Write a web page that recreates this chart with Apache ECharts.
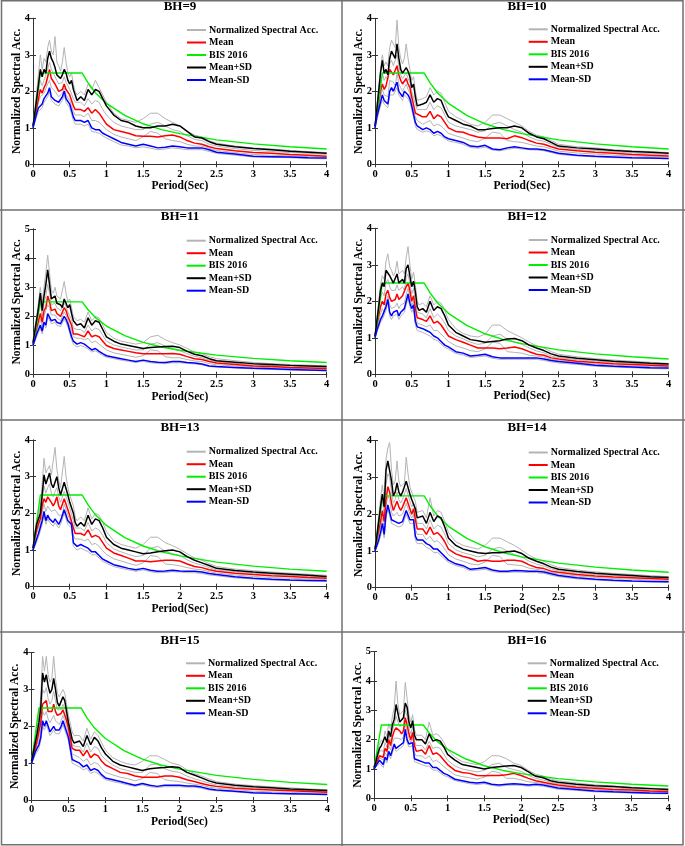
<!DOCTYPE html>
<html><head><meta charset="utf-8">
<script src="https://cdn.jsdelivr.net/npm/echarts@6/dist/echarts.min.js"></script>
<style>html,body{margin:0;padding:0;background:#fff}#c{width:685px;height:846px}</style>
</head><body><div id="c"></div>
<script>
// ---------- DATA ----------
const PERIOD = [0,0.025,0.05,0.075,0.1,0.125,0.15,0.175,0.2,0.225,0.25,0.275,0.3,0.325,0.35,0.375,0.4,0.425,0.45,0.475,0.5,0.525,0.55,0.575,0.6,
  0.65,0.7,0.75,0.8,0.85,0.9,0.95,1.0,
  1.1,1.2,1.3,1.4,1.5,1.6,1.7,1.8,1.9,2.0,2.1,2.2,2.3,2.4,2.5,
  2.75,3.0,3.25,3.5,3.75,4.0];
const BIS_T  = [0,0.1,0.67,0.75,0.85,1,1.25,1.5,1.75,2,2.5,3,3.5,4];
const BIS_SA = [1,2.5,2.5,2.23,1.96,1.67,1.34,1.11,0.95,0.84,0.67,0.56,0.48,0.42];
const TITLES = ['BH=9','BH=10','BH=11','BH=12','BH=13','BH=14','BH=15','BH=16'];
const Y_MAX = [4,4,5,4,4,4,4,5];
const NAMES = ['Normalized Spectral Acc.','Mean','BIS 2016','Mean+SD','Mean-SD'];

const BH9_PLUS  = [1.05,1.4,1.8,2.2,2.6,2.4,2.6,2.5,2.9,3.1,2.9,2.8,2.65,2.45,2.5,2.35,2.45,2.6,2.5,2.3,2.2,2.3,2.05,1.9,1.75, 1.85,1.75,2.05,1.9,2.05,2.0,1.8,1.6, 1.35,1.2,1.15,1.05,1.0,1.0,1.05,1.05,1.1,1.05,0.9,0.75,0.72,0.62,0.55, 0.48,0.43,0.4,0.36,0.33,0.3];
const BH9_MEAN  = [1.05,1.3,1.55,1.8,2.05,1.95,2.1,2.2,2.4,2.6,2.35,2.3,2.2,2.1,2.0,1.95,2.05,2.2,2.05,2.0,1.9,1.95,1.6,1.5,1.55, 1.5,1.45,1.55,1.4,1.5,1.4,1.25,1.1, 0.95,0.9,0.85,0.78,0.77,0.77,0.75,0.78,0.8,0.75,0.65,0.58,0.55,0.48,0.43, 0.37,0.32,0.3,0.27,0.25,0.22];
const BH9_MINUS = [1.0,1.2,1.4,1.55,1.6,1.65,1.8,1.75,1.95,2.1,1.85,1.8,1.75,1.8,1.7,1.75,1.85,2.0,1.8,1.75,1.65,1.7,1.3,1.2,1.15, 1.2,1.15,1.2,1.0,0.95,0.95,0.85,0.8, 0.7,0.6,0.55,0.5,0.55,0.5,0.45,0.47,0.5,0.48,0.45,0.45,0.45,0.4,0.33, 0.28,0.22,0.21,0.2,0.18,0.17];
const BH9_G1 = [1.05,1.5,2.0,2.5,3.0,2.6,2.9,2.8,3.2,3.4,3.1,3.0,3.5,2.8,2.7,2.55,2.8,3.2,2.8,2.5,2.4,2.5,2.2,2.0,1.9, 2.0,1.9,2.2,2.05,2.3,2.1,1.9,1.7, 1.4,1.25,1.2,1.15,1.25,1.4,1.4,1.25,1.15,1.05,0.9,0.8,0.75,0.65,0.58, 0.5,0.45,0.42,0.38,0.35,0.32];
const BH9_G2 = [1.05,1.35,1.65,2.0,2.3,2.15,2.3,2.3,2.6,2.8,2.6,2.5,2.45,2.3,2.2,2.15,2.25,2.4,2.25,2.15,2.05,2.1,1.8,1.7,1.65, 1.7,1.6,1.8,1.65,1.75,1.7,1.5,1.35, 1.15,1.05,1.0,0.95,0.95,1.1,1.15,1.05,0.95,0.9,0.78,0.68,0.65,0.55,0.5, 0.43,0.38,0.35,0.32,0.3,0.27];
const BH9_G3 = [1.0,1.25,1.5,1.7,1.85,1.8,1.95,1.95,2.2,2.3,2.1,2.05,2.0,1.95,1.85,1.85,1.95,2.1,1.9,1.85,1.75,1.8,1.45,1.35,1.35, 1.35,1.3,1.4,1.2,1.2,1.15,1.05,0.95, 0.82,0.75,0.7,0.65,0.75,0.9,0.85,0.7,0.65,0.62,0.55,0.5,0.5,0.44,0.38, 0.32,0.27,0.25,0.23,0.21,0.2];
const BH9_G4 = [1.0,1.15,1.3,1.45,1.5,1.55,1.7,1.65,1.85,2.0,1.75,1.7,1.65,1.7,1.6,1.65,1.75,1.9,1.7,1.65,1.55,1.6,1.2,1.1,1.05, 1.1,1.05,1.1,0.9,0.88,0.85,0.78,0.72, 0.62,0.53,0.5,0.45,0.48,0.44,0.4,0.42,0.45,0.43,0.4,0.4,0.4,0.35,0.3, 0.25,0.2,0.19,0.18,0.16,0.15];

const BH10_PLUS  = [1.05,1.5,2.0,2.5,2.85,2.5,2.6,2.45,2.9,3.1,3.0,2.9,3.3,2.9,2.6,2.5,2.55,2.65,2.55,2.4,2.1,2.2,1.85,1.6,1.55, 1.65,1.7,1.9,1.7,1.8,1.75,1.5,1.3, 1.2,1.1,1.05,0.95,0.95,0.98,1.0,1.0,1.05,1.0,0.85,0.75,0.7,0.6,0.5, 0.45,0.42,0.38,0.35,0.33,0.3];
const BH10_MEAN  = [1.05,1.4,1.7,2.0,2.2,2.05,2.15,2.1,2.6,2.55,2.45,2.4,2.7,2.45,2.3,2.2,2.25,2.35,2.2,2.1,1.85,1.9,1.4,1.35,1.35, 1.3,1.3,1.45,1.25,1.35,1.3,1.15,1.0, 0.9,0.88,0.8,0.75,0.72,0.72,0.72,0.7,0.78,0.73,0.65,0.58,0.55,0.48,0.42, 0.37,0.33,0.3,0.27,0.25,0.23];
const BH10_MINUS = [1.0,1.3,1.5,1.7,1.9,1.75,1.7,1.65,2.0,2.1,2.0,1.95,2.25,2.0,1.95,1.85,2.0,2.05,1.9,1.8,1.6,1.55,1.15,1.05,1.05, 0.95,1.0,0.95,0.85,0.9,0.85,0.75,0.7, 0.65,0.6,0.5,0.48,0.52,0.42,0.4,0.45,0.48,0.45,0.42,0.42,0.4,0.35,0.3, 0.25,0.22,0.2,0.18,0.17,0.16];
const BH10_G1 = [1.05,1.6,2.1,2.6,3.0,2.7,2.8,2.7,3.2,3.4,3.3,3.2,3.95,3.2,2.9,2.75,2.9,3.3,2.9,2.6,2.3,2.4,2.0,1.75,1.7, 1.8,1.85,2.1,1.9,2.0,1.95,1.7,1.45, 1.3,1.2,1.1,1.05,1.15,1.35,1.35,1.25,1.15,1.05,0.9,0.8,0.75,0.65,0.55, 0.48,0.45,0.4,0.37,0.35,0.32];
const BH10_G2 = [1.05,1.45,1.85,2.2,2.5,2.3,2.4,2.3,2.75,2.85,2.7,2.65,3.0,2.7,2.45,2.35,2.4,2.5,2.35,2.25,2.0,2.05,1.65,1.5,1.45, 1.5,1.5,1.7,1.5,1.6,1.55,1.35,1.15, 1.05,1.0,0.95,0.88,0.92,1.1,1.15,1.05,0.95,0.88,0.75,0.67,0.63,0.55,0.47, 0.41,0.38,0.34,0.31,0.29,0.27];
const BH10_G3 = [1.0,1.35,1.6,1.85,2.05,1.9,1.95,1.85,2.3,2.35,2.25,2.15,2.5,2.2,2.1,2.0,2.1,2.2,2.05,1.95,1.7,1.75,1.3,1.2,1.2, 1.1,1.15,1.2,1.05,1.1,1.05,0.95,0.85, 0.78,0.72,0.65,0.62,0.72,0.88,0.85,0.65,0.62,0.6,0.55,0.5,0.48,0.42,0.36, 0.31,0.28,0.25,0.23,0.21,0.2];
const BH10_G4 = [1.0,1.2,1.4,1.6,1.75,1.65,1.6,1.55,1.9,1.95,1.9,1.85,2.1,1.9,1.85,1.75,1.9,1.95,1.8,1.7,1.5,1.45,1.05,0.95,0.95, 0.88,0.92,0.88,0.78,0.82,0.78,0.7,0.64, 0.6,0.55,0.46,0.44,0.47,0.39,0.37,0.41,0.44,0.42,0.4,0.39,0.37,0.32,0.27, 0.23,0.2,0.18,0.17,0.16,0.15];

const BH11_PLUS  = [1.1,1.5,1.9,2.3,2.8,2.2,2.7,3.1,3.6,3.1,2.6,2.6,2.7,2.45,2.5,2.4,2.3,2.6,2.55,2.3,2.4,2.1,1.85,1.9,1.7, 1.75,1.6,1.95,1.7,1.85,1.8,1.55,1.3, 1.15,1.05,1.0,0.95,0.9,0.93,0.95,0.97,0.98,0.93,0.8,0.7,0.65,0.55,0.48, 0.43,0.38,0.35,0.32,0.3,0.28];
const BH11_MEAN  = [1.05,1.35,1.6,1.85,2.1,1.8,2.2,2.3,2.7,2.5,2.2,2.2,2.25,2.1,2.1,2.0,2.0,2.3,2.2,2.0,2.05,1.7,1.4,1.45,1.4, 1.35,1.3,1.5,1.3,1.35,1.3,1.15,1.0, 0.9,0.85,0.8,0.75,0.72,0.72,0.72,0.72,0.73,0.7,0.62,0.55,0.52,0.45,0.4, 0.35,0.3,0.28,0.25,0.23,0.21];
const BH11_MINUS = [1.0,1.2,1.4,1.55,1.7,1.5,1.8,1.7,2.1,2.1,1.85,1.8,1.9,1.8,1.8,1.75,1.75,2.0,1.9,1.75,1.7,1.3,1.15,1.1,1.05, 1.1,1.05,0.95,0.85,0.9,0.8,0.72,0.65, 0.6,0.55,0.5,0.45,0.5,0.45,0.43,0.42,0.45,0.45,0.42,0.4,0.37,0.3,0.28, 0.25,0.22,0.2,0.18,0.16,0.14];
const BH11_G1 = [1.1,1.6,2.0,2.5,3.0,2.5,3.0,3.5,4.1,3.5,2.9,2.8,3.0,2.7,2.7,2.6,2.6,3.2,2.8,2.5,2.6,2.3,2.0,2.05,1.85, 1.9,1.8,2.15,1.85,2.0,1.95,1.7,1.45, 1.25,1.15,1.1,1.05,1.1,1.3,1.35,1.2,1.1,1.02,0.9,0.78,0.72,0.62,0.55, 0.48,0.42,0.38,0.35,0.33,0.3];
const BH11_G2 = [1.05,1.45,1.75,2.1,2.45,2.0,2.45,2.7,3.1,2.8,2.4,2.4,2.45,2.3,2.3,2.2,2.15,2.45,2.35,2.15,2.2,1.9,1.6,1.65,1.55, 1.55,1.45,1.7,1.5,1.6,1.55,1.35,1.15, 1.02,0.95,0.9,0.85,0.85,1.05,1.1,0.98,0.88,0.82,0.72,0.63,0.58,0.5,0.45, 0.39,0.34,0.31,0.29,0.27,0.25];
const BH11_G3 = [1.0,1.3,1.5,1.7,1.9,1.65,2.0,2.0,2.4,2.3,2.05,2.0,2.05,1.95,1.95,1.85,1.85,2.15,2.05,1.85,1.85,1.5,1.3,1.3,1.25, 1.25,1.2,1.25,1.1,1.15,1.05,0.95,0.85, 0.75,0.7,0.65,0.6,0.65,0.85,0.82,0.62,0.58,0.58,0.52,0.47,0.45,0.38,0.34, 0.3,0.26,0.24,0.22,0.2,0.18];
const BH11_G4 = [1.0,1.15,1.3,1.45,1.6,1.4,1.7,1.6,2.0,1.95,1.75,1.7,1.8,1.7,1.7,1.65,1.65,1.9,1.8,1.65,1.6,1.2,1.05,1.0,0.95, 1.0,0.95,0.88,0.78,0.82,0.74,0.66,0.6, 0.55,0.5,0.46,0.42,0.46,0.41,0.39,0.38,0.41,0.41,0.39,0.37,0.34,0.28,0.26, 0.23,0.2,0.18,0.16,0.15,0.13];

const BH12_PLUS  = [1.05,1.45,1.85,2.3,2.5,2.4,2.85,2.9,2.7,2.6,2.5,2.55,2.75,2.5,2.55,2.6,2.5,2.9,3.0,2.7,2.4,2.55,2.25,1.85,1.75, 1.8,1.7,2.0,1.75,1.85,1.8,1.6,1.35, 1.15,1.05,0.95,0.92,0.88,0.9,0.92,0.97,0.98,0.92,0.8,0.72,0.65,0.56,0.5, 0.44,0.4,0.36,0.33,0.3,0.28];
const BH12_MEAN  = [1.05,1.35,1.6,1.85,2.0,1.9,2.2,2.3,2.1,2.0,2.0,2.05,2.2,2.05,2.1,2.15,2.1,2.4,2.5,2.3,2.0,2.15,1.8,1.55,1.55, 1.5,1.45,1.6,1.4,1.45,1.35,1.2,1.05, 0.95,0.88,0.8,0.72,0.72,0.72,0.7,0.72,0.75,0.7,0.62,0.55,0.52,0.45,0.42, 0.36,0.32,0.29,0.27,0.25,0.23];
const BH12_MINUS = [1.0,1.2,1.35,1.5,1.6,1.55,1.85,2.05,1.7,1.6,1.7,1.65,1.75,1.6,1.7,1.75,1.8,2.0,2.2,1.95,1.8,1.9,1.45,1.3,1.3, 1.25,1.2,1.15,1.05,1.0,0.9,0.8,0.75, 0.62,0.58,0.5,0.52,0.55,0.48,0.45,0.45,0.45,0.45,0.45,0.45,0.42,0.38,0.35, 0.3,0.25,0.22,0.2,0.18,0.17];
const BH12_G1 = [1.05,1.55,2.0,2.45,2.7,2.6,3.1,3.3,2.95,2.85,2.7,2.8,3.1,2.75,2.8,2.85,2.75,3.2,3.5,3.0,2.6,2.8,2.45,2.0,1.9, 1.95,1.85,2.15,1.9,2.0,1.95,1.75,1.5, 1.25,1.12,1.05,1.02,1.1,1.35,1.35,1.2,1.1,1.0,0.88,0.78,0.72,0.62,0.55, 0.48,0.43,0.39,0.36,0.33,0.3];
const BH12_G2 = [1.05,1.4,1.75,2.1,2.25,2.15,2.5,2.6,2.4,2.3,2.25,2.3,2.45,2.3,2.35,2.4,2.3,2.65,2.75,2.5,2.2,2.35,2.0,1.7,1.65, 1.65,1.55,1.8,1.55,1.65,1.55,1.4,1.2, 1.05,0.97,0.88,0.82,0.85,1.05,1.1,0.97,0.88,0.82,0.72,0.64,0.59,0.5,0.46, 0.4,0.36,0.33,0.3,0.28,0.26];
const BH12_G3 = [1.0,1.3,1.45,1.65,1.8,1.7,2.0,2.15,1.9,1.8,1.85,1.85,1.95,1.8,1.9,1.95,1.95,2.2,2.35,2.1,1.9,2.0,1.6,1.4,1.4, 1.35,1.3,1.35,1.2,1.2,1.1,1.0,0.9, 0.78,0.72,0.65,0.62,0.7,0.88,0.85,0.62,0.6,0.58,0.52,0.5,0.47,0.41,0.38, 0.33,0.28,0.25,0.23,0.21,0.2];
const BH12_G4 = [1.0,1.15,1.28,1.42,1.5,1.45,1.75,1.95,1.6,1.5,1.6,1.55,1.65,1.5,1.6,1.65,1.7,1.9,2.1,1.85,1.7,1.8,1.35,1.2,1.2, 1.15,1.1,1.05,0.96,0.92,0.83,0.74,0.69, 0.57,0.53,0.46,0.48,0.5,0.44,0.41,0.41,0.41,0.41,0.41,0.41,0.38,0.34,0.31, 0.27,0.22,0.2,0.18,0.16,0.15];

const BH13_PLUS  = [1.05,1.4,1.7,1.85,2.0,2.5,3.05,2.8,2.95,3.1,2.8,2.7,2.85,3.0,2.7,2.5,2.45,2.85,2.8,2.5,2.3,2.35,2.0,1.75,1.65, 1.75,1.65,1.95,1.7,1.85,1.8,1.6,1.35, 1.15,1.05,1.0,0.95,0.9,0.92,0.95,0.98,1.0,0.95,0.82,0.72,0.65,0.58,0.5, 0.44,0.4,0.37,0.34,0.31,0.28];
const BH13_MEAN  = [1.05,1.3,1.55,1.7,1.85,2.2,2.4,2.3,2.45,2.5,2.3,2.2,2.3,2.45,2.2,2.1,2.1,2.4,2.4,2.1,1.95,2.0,1.6,1.45,1.45, 1.45,1.4,1.55,1.35,1.4,1.35,1.2,1.05, 0.92,0.85,0.78,0.7,0.7,0.68,0.7,0.72,0.72,0.7,0.62,0.55,0.52,0.46,0.42, 0.37,0.33,0.3,0.28,0.25,0.23];
const BH13_MINUS = [1.0,1.15,1.3,1.45,1.5,1.8,2.05,1.8,1.95,1.85,1.8,1.75,1.85,1.8,1.7,1.8,1.8,2.1,2.05,1.8,1.75,1.7,1.2,1.15,1.1, 1.15,1.1,1.05,0.95,0.95,0.85,0.75,0.7, 0.6,0.55,0.5,0.46,0.5,0.45,0.42,0.43,0.45,0.43,0.42,0.42,0.4,0.36,0.33, 0.27,0.23,0.2,0.18,0.17,0.16];
const BH13_G1 = [1.05,1.5,1.85,2.0,2.2,2.8,3.5,3.1,3.2,3.3,3.05,3.0,3.8,3.2,2.9,2.7,2.7,3.55,3.0,2.7,2.5,2.55,2.2,1.9,1.8, 1.9,1.8,2.15,1.85,2.0,1.95,1.75,1.5, 1.25,1.15,1.1,1.05,1.15,1.35,1.35,1.2,1.12,1.02,0.9,0.78,0.72,0.63,0.55, 0.48,0.44,0.4,0.37,0.34,0.31];
const BH13_G2 = [1.05,1.35,1.65,1.8,1.95,2.35,2.75,2.55,2.7,2.8,2.55,2.45,2.6,2.7,2.45,2.3,2.3,2.6,2.6,2.3,2.15,2.2,1.8,1.6,1.55, 1.6,1.52,1.75,1.52,1.6,1.55,1.4,1.2, 1.03,0.95,0.88,0.82,0.85,1.05,1.1,0.97,0.9,0.85,0.73,0.64,0.59,0.52,0.46, 0.41,0.37,0.34,0.31,0.28,0.26];
const BH13_G3 = [1.0,1.25,1.45,1.6,1.7,2.0,2.25,2.05,2.2,2.2,2.05,2.0,2.1,2.15,1.95,1.95,1.95,2.25,2.2,1.95,1.85,1.85,1.4,1.3,1.3, 1.3,1.25,1.3,1.15,1.18,1.1,0.98,0.88, 0.76,0.7,0.64,0.58,0.65,0.85,0.82,0.62,0.6,0.57,0.52,0.48,0.46,0.41,0.37, 0.32,0.28,0.25,0.23,0.21,0.2];
const BH13_G4 = [1.0,1.1,1.22,1.35,1.4,1.7,1.95,1.7,1.85,1.75,1.7,1.65,1.75,1.7,1.6,1.7,1.7,2.0,1.95,1.7,1.65,1.6,1.1,1.05,1.0, 1.05,1.0,0.96,0.87,0.87,0.78,0.69,0.64, 0.55,0.5,0.46,0.42,0.46,0.41,0.38,0.39,0.41,0.4,0.38,0.38,0.36,0.32,0.3, 0.24,0.21,0.18,0.17,0.16,0.15];

const BH14_PLUS  = [1.05,1.4,1.8,2.2,2.55,2.2,3.2,3.45,3.45,2.9,2.5,2.6,2.85,2.6,2.5,2.6,2.6,2.9,2.95,2.55,2.4,2.45,2.15,1.9,1.85, 1.95,1.75,2.05,1.8,1.95,1.9,1.65,1.35, 1.15,1.05,1.0,0.95,0.93,0.95,0.95,0.98,1.0,0.93,0.8,0.72,0.65,0.56,0.5, 0.44,0.39,0.36,0.33,0.3,0.28];
const BH14_MEAN  = [1.05,1.3,1.55,1.8,2.1,1.8,2.4,2.75,2.6,2.3,2.1,2.15,2.35,2.2,2.1,2.2,2.2,2.45,2.5,2.15,2.0,2.15,1.85,1.6,1.6, 1.6,1.45,1.65,1.45,1.5,1.4,1.25,1.05, 0.92,0.85,0.8,0.72,0.75,0.72,0.72,0.75,0.75,0.72,0.62,0.55,0.52,0.45,0.42, 0.36,0.32,0.29,0.27,0.25,0.23];
const BH14_MINUS = [1.0,1.15,1.3,1.5,1.75,1.45,2.0,2.25,2.2,1.85,1.8,1.8,1.75,1.75,1.7,1.8,1.85,2.1,2.15,1.85,1.8,1.85,1.4,1.3,1.3, 1.3,1.2,1.15,1.05,1.05,0.95,0.85,0.75, 0.65,0.6,0.5,0.52,0.55,0.48,0.45,0.45,0.47,0.46,0.45,0.45,0.43,0.38,0.33, 0.27,0.23,0.2,0.18,0.17,0.16];
const BH14_G1 = [1.05,1.5,1.95,2.4,2.8,2.4,3.5,3.8,3.95,3.2,2.8,2.9,3.45,2.9,2.75,2.8,2.85,3.55,3.1,2.75,2.6,2.65,2.35,2.05,2.0, 2.1,1.9,2.45,1.95,2.1,2.05,1.8,1.5, 1.25,1.15,1.1,1.05,1.15,1.35,1.35,1.25,1.15,1.02,0.88,0.78,0.72,0.62,0.55, 0.48,0.43,0.39,0.36,0.33,0.3];
const BH14_G2 = [1.05,1.35,1.7,2.0,2.35,2.0,2.8,3.1,3.0,2.6,2.3,2.4,2.6,2.4,2.3,2.4,2.4,2.7,2.75,2.35,2.2,2.3,2.0,1.75,1.7, 1.75,1.6,1.85,1.6,1.7,1.65,1.45,1.2, 1.03,0.95,0.9,0.84,0.88,1.05,1.1,1.0,0.9,0.83,0.72,0.64,0.59,0.51,0.46, 0.4,0.36,0.33,0.3,0.28,0.26];
const BH14_G3 = [1.0,1.25,1.45,1.65,1.9,1.6,2.2,2.5,2.4,2.05,1.95,1.95,2.05,1.95,1.9,2.0,2.05,2.3,2.3,2.0,1.9,2.0,1.6,1.45,1.45, 1.45,1.3,1.4,1.25,1.28,1.18,1.05,0.9, 0.78,0.72,0.65,0.62,0.7,0.88,0.85,0.64,0.62,0.6,0.53,0.5,0.47,0.41,0.37, 0.32,0.28,0.25,0.23,0.21,0.2];
const BH14_G4 = [1.0,1.1,1.22,1.4,1.65,1.35,1.9,2.15,2.1,1.75,1.7,1.7,1.65,1.65,1.6,1.7,1.75,2.0,2.05,1.75,1.7,1.75,1.3,1.2,1.2, 1.2,1.1,1.05,0.96,0.96,0.87,0.78,0.69, 0.6,0.55,0.46,0.48,0.5,0.44,0.41,0.41,0.43,0.42,0.41,0.41,0.39,0.34,0.3, 0.24,0.21,0.18,0.17,0.16,0.15];

const BH15_PLUS  = [1.05,1.3,1.55,1.8,2.1,2.5,3.45,3.2,3.4,3.1,2.9,3.0,3.3,3.0,2.65,2.55,2.6,2.8,2.7,2.4,2.1,2.15,1.65,1.55,1.55, 1.6,1.45,1.75,1.5,1.7,1.6,1.4,1.25, 1.05,0.95,0.9,0.85,0.8,0.85,0.87,0.88,0.9,0.88,0.75,0.68,0.6,0.52,0.46, 0.4,0.36,0.33,0.3,0.28,0.26];
const BH15_MEAN  = [1.0,1.2,1.4,1.6,1.85,2.1,2.6,2.65,2.7,2.4,2.35,2.4,2.6,2.4,2.3,2.25,2.35,2.45,2.3,2.15,1.95,1.95,1.4,1.35,1.35, 1.35,1.2,1.35,1.15,1.25,1.2,1.05,0.95, 0.85,0.75,0.72,0.65,0.62,0.62,0.62,0.65,0.65,0.62,0.55,0.5,0.45,0.4,0.37, 0.32,0.29,0.27,0.25,0.23,0.21];
const BH15_MINUS = [1.0,1.15,1.3,1.4,1.5,1.7,2.15,2.0,2.15,2.0,1.85,1.9,2.0,1.9,1.95,1.9,2.0,2.15,2.0,1.85,1.7,1.65,1.1,1.05,1.05, 1.0,0.9,0.95,0.8,0.85,0.8,0.68,0.6, 0.55,0.5,0.45,0.4,0.45,0.4,0.37,0.4,0.4,0.4,0.38,0.38,0.35,0.3,0.27, 0.24,0.2,0.18,0.17,0.16,0.15];
const BH15_G1 = [1.05,1.4,1.7,1.95,2.3,2.8,3.9,3.5,3.9,3.4,3.2,3.3,3.9,3.3,2.9,2.8,2.85,3.0,2.9,2.6,2.3,2.35,1.85,1.75,1.7, 1.75,1.6,1.95,1.65,1.85,1.75,1.55,1.35, 1.15,1.05,0.98,0.95,1.05,1.2,1.2,1.1,1.0,0.95,0.82,0.72,0.65,0.57,0.5, 0.43,0.39,0.36,0.33,0.3,0.28];
const BH15_G2 = [1.0,1.25,1.5,1.7,1.95,2.3,3.0,2.9,3.05,2.75,2.6,2.7,2.95,2.7,2.45,2.4,2.45,2.6,2.5,2.25,2.0,2.05,1.5,1.45,1.45, 1.45,1.3,1.55,1.3,1.45,1.4,1.2,1.1, 0.95,0.85,0.8,0.75,0.75,0.95,0.98,0.85,0.78,0.75,0.65,0.58,0.52,0.46,0.41, 0.36,0.32,0.3,0.27,0.25,0.23];
const BH15_G3 = [1.0,1.18,1.35,1.5,1.65,1.9,2.4,2.3,2.4,2.2,2.1,2.15,2.3,2.15,2.1,2.05,2.15,2.3,2.15,2.0,1.8,1.8,1.25,1.2,1.2, 1.15,1.05,1.12,0.95,1.02,0.98,0.85,0.75, 0.68,0.62,0.58,0.52,0.58,0.75,0.72,0.55,0.52,0.5,0.46,0.43,0.4,0.35,0.32, 0.28,0.24,0.22,0.21,0.19,0.18];
const BH15_G4 = [1.0,1.1,1.22,1.3,1.4,1.6,2.0,1.9,2.05,1.9,1.75,1.8,1.9,1.8,1.85,1.8,1.9,2.05,1.9,1.75,1.6,1.55,1.0,0.95,0.95, 0.9,0.82,0.86,0.72,0.77,0.72,0.62,0.55, 0.5,0.46,0.41,0.37,0.41,0.36,0.34,0.36,0.36,0.36,0.35,0.35,0.32,0.27,0.25, 0.22,0.18,0.17,0.16,0.15,0.14];

const BH16_PLUS  = [1.05,1.25,1.5,1.7,1.8,1.75,2.1,1.9,2.3,2.1,2.5,2.7,3.2,2.9,2.6,2.6,2.75,3.25,3.1,2.6,2.4,2.65,2.15,2.0,1.95, 2.0,1.85,2.2,1.95,2.0,1.95,1.75,1.5, 1.3,1.15,1.1,1.05,1.0,1.05,1.08,1.1,1.12,1.05,0.9,0.75,0.7,0.6,0.55, 0.48,0.43,0.4,0.36,0.33,0.3];
const BH16_MEAN  = [1.0,1.15,1.3,1.45,1.5,1.4,1.7,1.6,2.0,1.8,2.1,2.3,2.4,2.35,2.3,2.2,2.3,2.75,2.5,2.2,2.0,2.25,1.8,1.6,1.6, 1.65,1.5,1.8,1.5,1.55,1.45,1.3,1.15, 0.95,0.88,0.85,0.78,0.77,0.78,0.78,0.8,0.85,0.78,0.68,0.6,0.55,0.5,0.45, 0.38,0.34,0.3,0.28,0.25,0.23];
const BH16_MINUS = [1.0,1.1,1.2,1.3,1.25,1.15,1.4,1.3,1.6,1.45,1.65,1.85,1.7,1.75,1.8,1.75,1.9,2.35,2.0,1.85,1.8,1.9,1.35,1.3,1.3, 1.25,1.2,1.2,1.05,1.05,0.95,0.85,0.8, 0.65,0.6,0.55,0.52,0.55,0.48,0.45,0.48,0.5,0.48,0.45,0.48,0.45,0.4,0.35, 0.3,0.25,0.22,0.2,0.18,0.17];
const BH16_G1 = [1.05,1.35,1.6,1.85,2.0,1.9,2.3,2.1,2.55,2.35,2.8,3.1,4.0,3.2,2.85,2.8,3.0,3.95,3.4,2.85,2.6,2.85,2.35,2.15,2.1, 2.15,2.0,2.6,2.15,2.2,2.1,1.9,1.65, 1.4,1.25,1.2,1.15,1.25,1.45,1.45,1.35,1.2,1.12,0.95,0.82,0.76,0.66,0.6, 0.52,0.46,0.42,0.38,0.35,0.32];
const BH16_G2 = [1.05,1.2,1.4,1.58,1.65,1.58,1.9,1.75,2.15,1.95,2.3,2.5,2.8,2.6,2.45,2.4,2.5,3.0,2.8,2.4,2.2,2.45,1.95,1.8,1.75, 1.8,1.65,1.95,1.7,1.75,1.7,1.5,1.3, 1.1,1.0,0.95,0.9,0.95,1.15,1.2,1.05,0.98,0.92,0.78,0.68,0.62,0.55,0.5, 0.43,0.38,0.35,0.32,0.29,0.27];
const BH16_G3 = [1.0,1.12,1.25,1.38,1.4,1.3,1.55,1.45,1.8,1.65,1.9,2.05,2.05,2.05,2.05,2.0,2.1,2.55,2.25,2.05,1.9,2.1,1.55,1.45,1.45, 1.45,1.35,1.45,1.25,1.3,1.2,1.08,0.98, 0.8,0.74,0.7,0.65,0.72,0.92,0.88,0.68,0.68,0.63,0.56,0.54,0.5,0.45,0.4, 0.34,0.3,0.26,0.24,0.22,0.2];
const BH16_G4 = [1.0,1.05,1.12,1.2,1.15,1.05,1.3,1.2,1.5,1.35,1.55,1.75,1.6,1.65,1.7,1.65,1.8,2.2,1.9,1.75,1.7,1.8,1.25,1.2,1.2, 1.15,1.1,1.1,0.96,0.96,0.87,0.78,0.73, 0.6,0.55,0.5,0.47,0.5,0.44,0.41,0.44,0.45,0.44,0.41,0.44,0.41,0.36,0.31, 0.27,0.22,0.2,0.18,0.16,0.15];

// ---------- LAYOUT (positions / styles) ----------
const PANELS = [
  {mean:BH9_MEAN, plus:BH9_PLUS, minus:BH9_MINUS, gray:[BH9_G1,BH9_G2,BH9_G3,BH9_G4]},
  {mean:BH10_MEAN,plus:BH10_PLUS,minus:BH10_MINUS,gray:[BH10_G1,BH10_G2,BH10_G3,BH10_G4]},
  {mean:BH11_MEAN,plus:BH11_PLUS,minus:BH11_MINUS,gray:[BH11_G1,BH11_G2,BH11_G3,BH11_G4]},
  {mean:BH12_MEAN,plus:BH12_PLUS,minus:BH12_MINUS,gray:[BH12_G1,BH12_G2,BH12_G3,BH12_G4]},
  {mean:BH13_MEAN,plus:BH13_PLUS,minus:BH13_MINUS,gray:[BH13_G1,BH13_G2,BH13_G3,BH13_G4]},
  {mean:BH14_MEAN,plus:BH14_PLUS,minus:BH14_MINUS,gray:[BH14_G1,BH14_G2,BH14_G3,BH14_G4]},
  {mean:BH15_MEAN,plus:BH15_PLUS,minus:BH15_MINUS,gray:[BH15_G1,BH15_G2,BH15_G3,BH15_G4]},
  {mean:BH16_MEAN,plus:BH16_PLUS,minus:BH16_MINUS,gray:[BH16_G1,BH16_G2,BH16_G3,BH16_G4]}
];
const GRIDS = [
  {left:33,  top:18.3,  width:293.7, height:146},
  {left:375, top:18.3,  width:293.7, height:146},
  {left:33,  top:229,   width:293.7, height:145.7},
  {left:375, top:228.3, width:293.7, height:146},
  {left:33,  top:440,   width:293.7, height:146.7},
  {left:375, top:440.7, width:293.7, height:147},
  {left:31.5,top:652.7, width:295.8, height:147.3},
  {left:374, top:651.7, width:294.3, height:146.6}
];
const TITLE_POS = [[180,6.2],[527,6.2],[180,216.7],[527,216.7],[180,427.5],[527,427.5],[180,640.8],[527,640.8]];
const LEGEND_POS = [[187,30],[528.7,29.3],[186.7,240.7],[528.7,240],[186.7,451.7],[528.7,452.5],[186,663.3],[527.7,663.3]];

const FONT = 'Liberation Serif';
const COL = {gray:'#b4b4b4', mean:'#ff0000', bis:'#00ee00', plus:'#000000', minus:'#0000ff'};
const pairs = (xs, ys) => ys.map((v, i) => [xs[i], v]);

const chart = echarts.init(document.getElementById('c'), null, {renderer:'canvas'});
const grid = [], xAxis = [], yAxis = [], series = [], title = [], legend = [];
const lab = {fontFamily:FONT, fontWeight:'bold', fontSize:10.5, color:'#000'};
PANELS.forEach((p, k) => {
  grid.push(Object.assign({containLabel:false}, GRIDS[k]));
  const axLine = {show:true, lineStyle:{color:'#333', width:1}};
  const tick = {show:true, inside:true, length:3, lineStyle:{color:'#333'}};
  xAxis.push({type:'value', gridIndex:k, min:0, max:4, interval:0.5, position:'bottom',
    axisLine:axLine, axisTick:tick, splitLine:{show:false},
    axisLabel:Object.assign({margin:4}, lab),
    name:'Period(Sec)', nameLocation:'middle', nameGap:16, nameMoveOverlap:false,
    nameTextStyle:{fontFamily:FONT, fontWeight:'bold', fontSize:11.5, color:'#000'}});
  xAxis.push({type:'value', gridIndex:k, min:0, max:4, interval:0.5, position:'top',
    axisLine:axLine, axisTick:tick, splitLine:{show:false}, axisLabel:{show:false}});
  yAxis.push({type:'value', gridIndex:k, min:0, max:Y_MAX[k], interval:1, position:'left',
    axisLine:axLine, axisTick:tick, splitLine:{show:false},
    axisLabel:Object.assign({margin:3}, lab),
    name:'Normalized Spectral Acc.', nameLocation:'middle', nameGap:10, nameMoveOverlap:false,
    nameTextStyle:{fontFamily:FONT, fontWeight:'bold', fontSize:11.5, color:'#000'}});
  yAxis.push({type:'value', gridIndex:k, min:0, max:Y_MAX[k], interval:1, position:'right',
    axisLine:axLine, axisTick:tick, splitLine:{show:false}, axisLabel:{show:false}});
  const xi = 2*k, yi = 2*k;
  const base = {type:'line', xAxisIndex:xi, yAxisIndex:yi, showSymbol:false, symbol:'none', silent:true, animation:false};
  p.gray.forEach(g => series.push(Object.assign({}, base, {name:NAMES[0], data:pairs(PERIOD, g), lineStyle:{color:COL.gray, width:1}, itemStyle:{color:COL.gray}, z:1})));
  series.push(Object.assign({}, base, {name:NAMES[1], data:pairs(PERIOD, p.mean), lineStyle:{color:COL.mean, width:1.5}, itemStyle:{color:COL.mean}, z:3}));
  series.push(Object.assign({}, base, {name:NAMES[2], data:pairs(BIS_T, BIS_SA), lineStyle:{color:COL.bis, width:1.4}, itemStyle:{color:COL.bis}, z:3}));
  series.push(Object.assign({}, base, {name:NAMES[3], data:pairs(PERIOD, p.plus), lineStyle:{color:COL.plus, width:1.5}, itemStyle:{color:COL.plus}, z:3}));
  series.push(Object.assign({}, base, {name:NAMES[4], data:pairs(PERIOD, p.minus), lineStyle:{color:COL.minus, width:1.5}, itemStyle:{color:COL.minus}, z:3}));
  title.push({text:TITLES[k], left:TITLE_POS[k][0], top:TITLE_POS[k][1], textAlign:'center', textVerticalAlign:'middle', padding:0,
    textStyle:{fontFamily:FONT, fontWeight:'bold', fontSize:13, color:'#000'}});
  legend.push({data:NAMES.map(n => ({name:n, icon:'rect'})), orient:'vertical', left:LEGEND_POS[k][0], top:LEGEND_POS[k][1]-6.25, padding:0, itemGap:0,
    itemWidth:19, itemHeight:2, selectedMode:false, backgroundColor:'transparent',
    textStyle:{fontFamily:FONT, fontWeight:'bold', fontSize:10, color:'#000', lineHeight:12.5, padding:[0,0,0,-2]}});
});

const border = {stroke:'#707070', lineWidth:1.5};
const graphic = [
  {type:'rect', shape:{x:1.5, y:0.75, width:681.5, height:844}, style:Object.assign({fill:'none'}, border), silent:true},
  {type:'line', shape:{x1:342, y1:0, x2:342, y2:846}, style:border, silent:true},
  {type:'line', shape:{x1:0, y1:210, x2:685, y2:210}, style:border, silent:true},
  {type:'line', shape:{x1:0, y1:420, x2:685, y2:420}, style:border, silent:true},
  {type:'line', shape:{x1:0, y1:632, x2:685, y2:632}, style:border, silent:true}
];

chart.setOption({animation:false, backgroundColor:'#fff', grid, xAxis, yAxis, series, title, legend, graphic});
</script></body></html>
